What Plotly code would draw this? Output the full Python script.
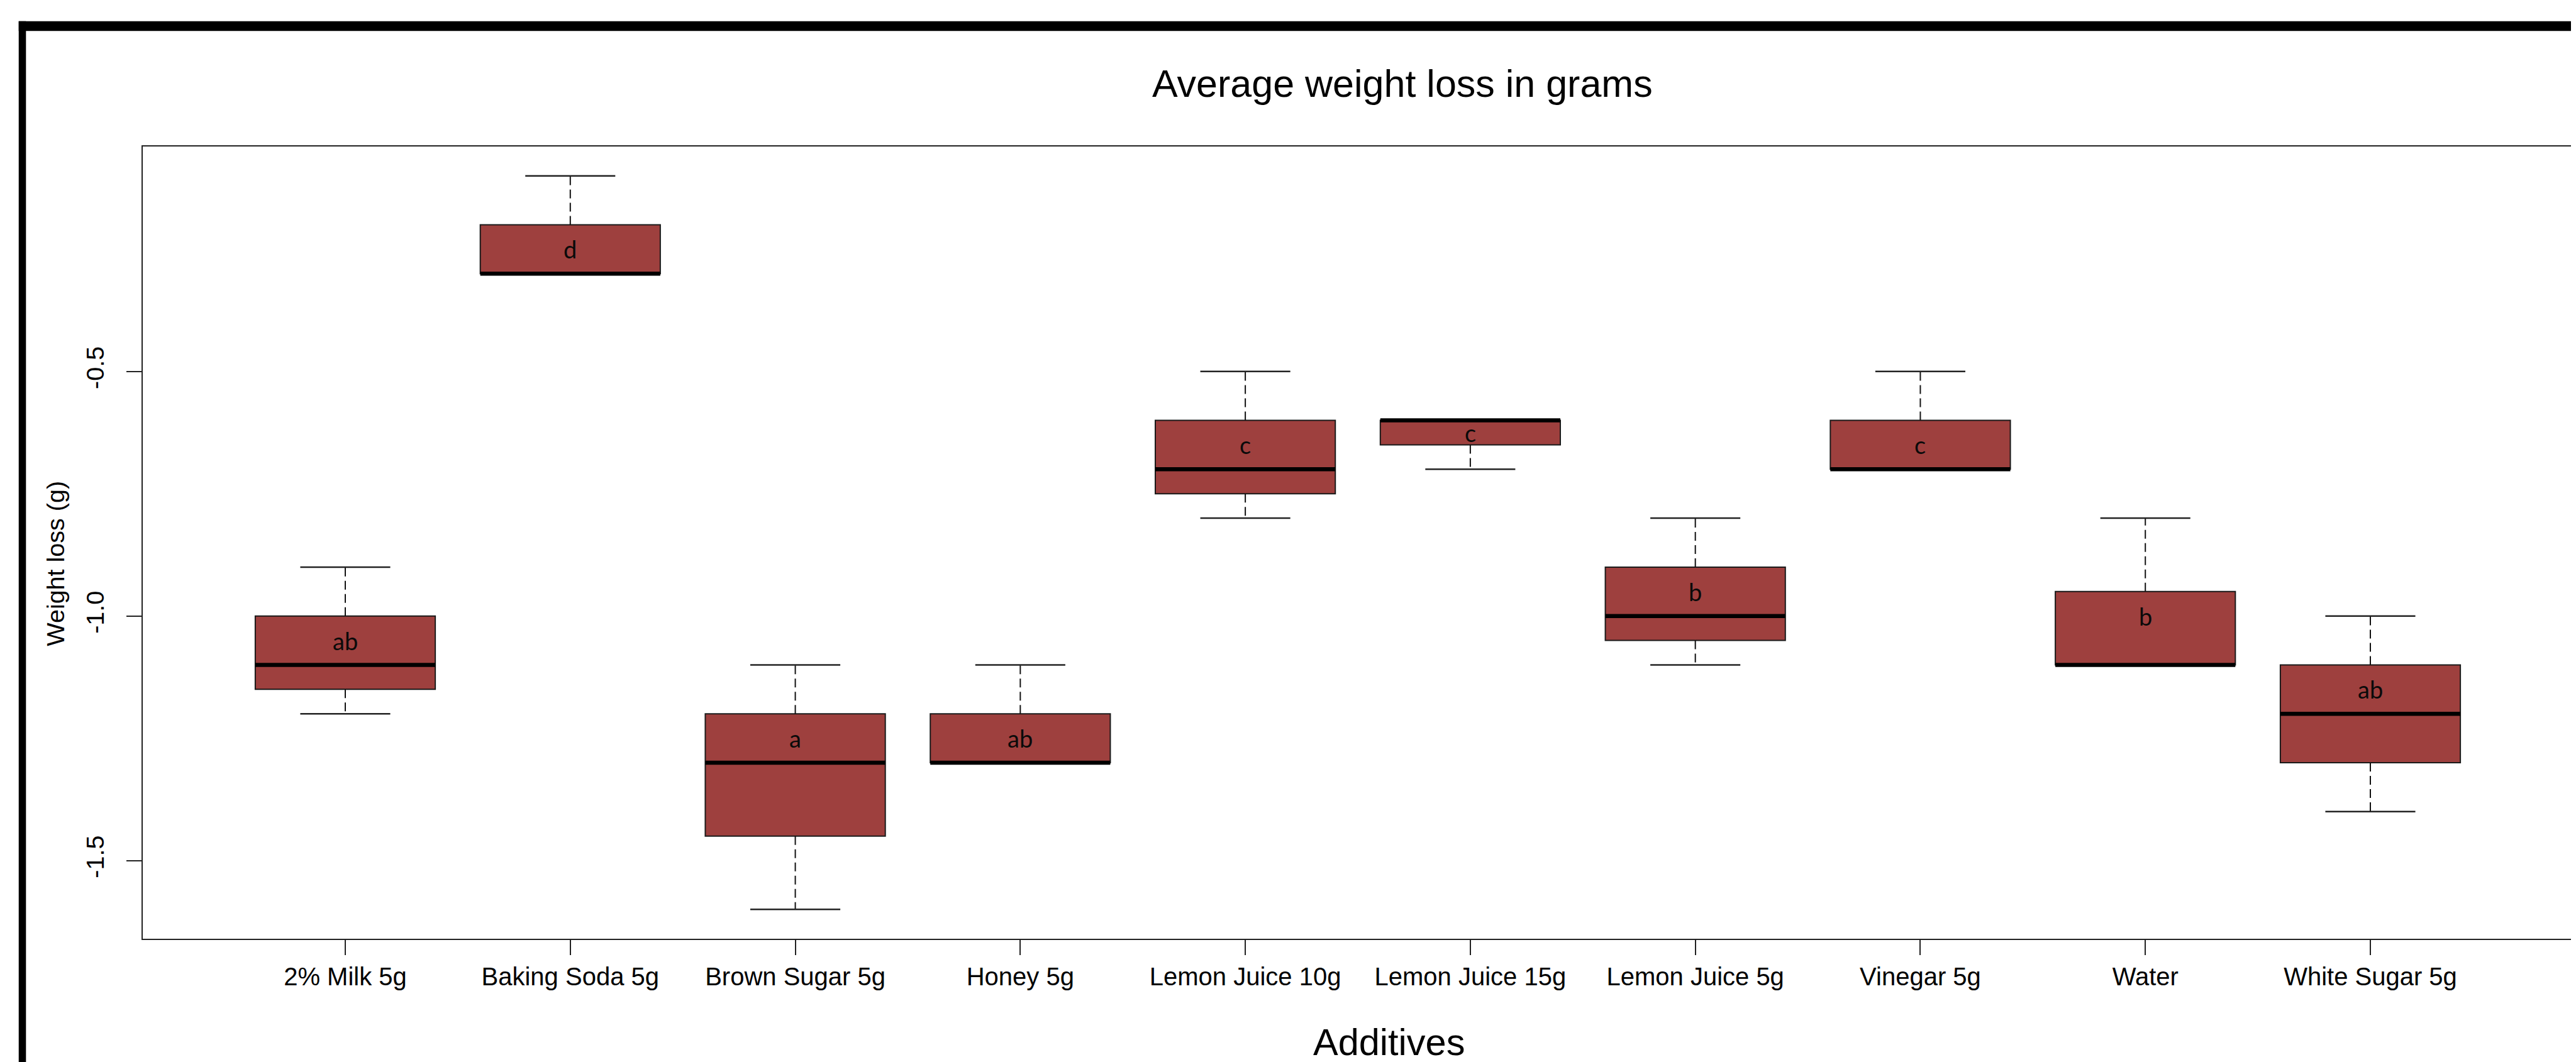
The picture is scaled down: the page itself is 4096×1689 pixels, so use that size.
import plotly.graph_objects as go

# ---------------- data ----------------
categories = ["2% Milk 5g", "Baking Soda 5g", "Brown Sugar 5g", "Honey 5g",
              "Lemon Juice 10g", "Lemon Juice 15g", "Lemon Juice 5g",
              "Vinegar 5g", "Water", "White Sugar 5g"]
lower_whisker = [-1.20, -0.30, -1.60, -1.30, -0.80, -0.70, -1.10, -0.70, -1.10, -1.40]
q1            = [-1.15, -0.30, -1.45, -1.30, -0.75, -0.65, -1.05, -0.70, -1.10, -1.30]
median        = [-1.10, -0.30, -1.30, -1.30, -0.70, -0.60, -1.00, -0.70, -1.10, -1.20]
q3            = [-1.00, -0.20, -1.20, -1.20, -0.60, -0.60, -0.90, -0.60, -0.95, -1.10]
upper_whisker = [-0.90, -0.10, -1.10, -1.10, -0.50, -0.60, -0.80, -0.50, -0.80, -1.00]
group_letters = ["ab", "d", "a", "ab", "c", "c", "b", "c", "b", "ab"]
y_tick_values = [-1.5, -1.0, -0.5]
y_tick_labels = ["-1.5", "-1.0", "-0.5"]

title_text = "Average weight loss in grams"
x_title = "Additives"
y_title = "Weight loss (g)"

# ---------------- styling / geometry ----------------
S = 4096 / 4257.0
W, H = 4096, 1689
L = 228 * S
R = W - 4244 * S
T = 234 * S
B = H - 1543 * S
PW = W - L - R
PH = H - T - B

BOX_W = 0.8
CAP_W = 0.4
FILL = "#9E403E"
FONT = "Liberation Sans, Arial, sans-serif"


def px_x(px):
    return (px * S - L) / PW


def px_y(py):
    return (H - B - py * S) / PH


positions = list(range(1, len(categories) + 1))

fig = go.Figure()

# boxes (no whiskers; those are drawn dashed below)
fig.add_trace(go.Box(
    x=positions, q1=q1, median=median, q3=q3,
    lowerfence=q1, upperfence=q3,
    width=BOX_W, whiskerwidth=0, boxpoints=False,
    fillcolor=FILL, line=dict(color="#1a1a1a", width=2),
    showlegend=False, hoverinfo="skip",
))

# dashed whiskers
wx, wy = [], []
for p, lo, a, b, hi in zip(positions, lower_whisker, q1, q3, upper_whisker):
    if hi > b:
        wx += [p, p, None]
        wy += [b, hi, None]
    if lo < a:
        wx += [p, p, None]
        wy += [a, lo, None]
fig.add_trace(go.Scatter(x=wx, y=wy, mode="lines",
                         line=dict(color="#111111", width=2, dash="14px,7px"),
                         showlegend=False, hoverinfo="skip"))

# staples
cx, cy = [], []
for p, lo, hi in zip(positions, lower_whisker, upper_whisker):
    for v in (lo, hi):
        cx += [p - CAP_W / 2, p + CAP_W / 2, None]
        cy += [v, v, None]
fig.add_trace(go.Scatter(x=cx, y=cy, mode="lines",
                         line=dict(color="#222222", width=2.5),
                         showlegend=False, hoverinfo="skip"))

# thick medians
mx, my = [], []
for p, m in zip(positions, median):
    mx += [p - BOX_W / 2, p + BOX_W / 2, None]
    my += [m, m, None]
fig.add_trace(go.Scatter(x=mx, y=my, mode="lines",
                         line=dict(color="#000000", width=6.5),
                         showlegend=False, hoverinfo="skip"))

annotations = []
# group letters inside the boxes
for p, a, b, lab in zip(positions, q1, q3, group_letters):
    yv = b - min(0.05, (b - a) / 2)
    annotations.append(dict(x=p, y=yv, xref="x", yref="y", text=lab,
                            showarrow=False, xanchor="center", yanchor="middle",
                            font=dict(family="Lato, Carlito, sans-serif", size=38, color="#0a0a0a")))

# title and axis titles
annotations.append(dict(x=px_x(2310), y=px_y(130), xref="paper", yref="paper",
                        text=title_text, showarrow=False, xanchor="center", yanchor="middle",
                        font=dict(family=FONT, size=61, color="#000000")))
annotations.append(dict(x=px_x(2287), y=px_y(1714), xref="paper", yref="paper",
                        text=x_title, showarrow=False, xanchor="center", yanchor="middle",
                        font=dict(family=FONT, size=59.5, color="#000000")))
annotations.append(dict(x=px_x(84), y=px_y(923), xref="paper", yref="paper",
                        text=y_title, showarrow=False, xanchor="center", yanchor="middle",
                        textangle=-90,
                        font=dict(family=FONT, size=39.5, color="#000000")))

shapes = [
    # outer black frame (top and left edges of the cropped screenshot)
    dict(type="rect", xref="paper", yref="paper",
         x0=px_x(23), x1=px_x(4300), y0=px_y(43), y1=px_y(27),
         fillcolor="#000000", line=dict(width=0), layer="above"),
    dict(type="rect", xref="paper", yref="paper",
         x0=px_x(23), x1=px_x(35), y0=px_y(1800), y1=px_y(27),
         fillcolor="#000000", line=dict(width=0), layer="above"),
]

fig.update_layout(
    width=W, height=H,
    margin=dict(l=L, r=R, t=T, b=B, autoexpand=False),
    paper_bgcolor="white", plot_bgcolor="white",
    showlegend=False,
    annotations=annotations,
    shapes=shapes,
    xaxis=dict(range=[0.1, 10.9], tickmode="array", tickvals=positions, ticktext=categories,
               showgrid=False, zeroline=False, showline=True, mirror=True,
               linecolor="#222222", linewidth=2.4,
               ticks="outside", ticklen=24, tickwidth=2, tickcolor="#222222",
               tickfont=dict(family=FONT, size=40, color="#000000")),
    yaxis=dict(range=[-1.66, -0.04], tickmode="array", tickvals=y_tick_values, ticktext=y_tick_labels,
               showgrid=False, zeroline=False, showline=True, mirror=True,
               linecolor="#222222", linewidth=2.4,
               ticks="outside", ticklen=24, tickwidth=2, tickcolor="#222222",
               tickangle=-90, ticklabelstandoff=20,
               tickfont=dict(family=FONT, size=39.5, color="#000000")),
)

fig.write_html("out.html")
